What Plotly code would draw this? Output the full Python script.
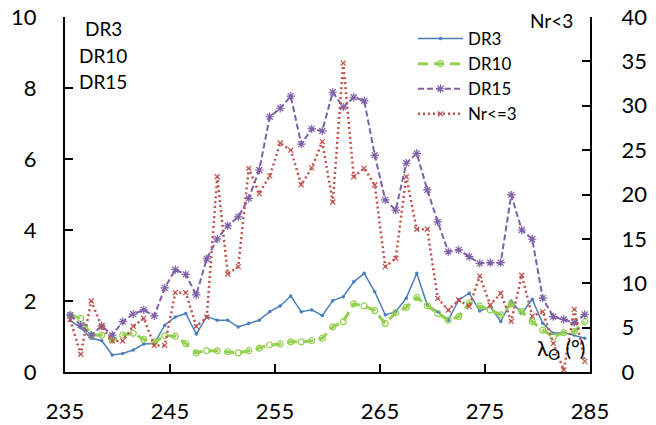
import plotly.graph_objects as go

# Solar longitude (deg)
lam = [235.5 + k for k in range(50)]

dr3 = [1.45, 1.25, 0.95, 0.88, 0.48, 0.52, 0.62, 0.79, 0.80, 1.32,
       1.55, 1.65, 1.07, 1.56, 1.46, 1.46, 1.27, 1.37, 1.46, 1.70,
       1.86, 2.14, 1.70, 1.75, 1.59, 2.01, 2.12, 2.54, 2.78, 2.26,
       1.61, 1.70, 2.08, 2.78, 1.89, 1.70, 1.46, 2.03, 2.22, 1.72,
       1.84, 1.42, 2.00, 1.65, 2.05, 1.37, 1.09, 1.11, 1.04, 0.95]

dr10 = [1.60, 1.51, 1.04, 1.04, 0.90, 1.04, 1.09, 0.92, 0.84, 1.02,
        1.01, 0.80, 0.54, 0.60, 0.60, 0.57, 0.54, 0.60, 0.67, 0.76,
        0.79, 0.85, 0.85, 0.88, 0.95, 1.27, 1.42, 1.92, 1.86, 1.73,
        1.37, 1.67, 1.82, 2.10, 1.87, 1.65, 1.46, 1.56, 1.95, 1.86,
        1.75, 1.61, 1.92, 1.70, 1.42, 1.18, 0.99, 1.11, 1.14, 1.42]

dr15 = [1.60, 1.32, 1.04, 1.30, 1.04, 1.42, 1.63, 1.75, 1.58, 2.37,
        2.88, 2.75, 2.17, 3.19, 3.75, 4.12, 4.37, 4.89, 5.69, 7.19,
        7.43, 7.77, 6.42, 6.85, 6.79, 7.88, 7.46, 7.74, 7.64, 6.11,
        4.85, 4.56, 5.88, 6.16, 5.13, 4.23, 3.39, 3.44, 3.25, 3.06,
        3.08, 3.08, 4.99, 4.00, 3.74, 2.08, 1.56, 1.48, 1.39, 1.62]

nr3 = [5.9, 2.0, 8.0, 5.1, 3.5, 3.5, 5.15, 6.05, 3.0, 3.0,
       8.94, 8.94, 5.14, 6.17, 22.0, 11.04, 11.87, 22.95, 20.1, 22.1,
       25.8, 25.0, 21.1, 23.0, 25.95, 19.15, 34.8, 22.0, 22.95, 21.07,
       11.87, 12.8, 22.0, 16.08, 16.1, 8.3, 6.99, 8.11, 7.36, 10.8,
       7.55, 8.87, 5.7, 10.9, 6.3, 6.8, 3.23, 0.23, 7.06, 1.2]

x_ticks = [235, 245, 255, 265, 275, 285]
left_ticks = [0, 2, 4, 6, 8, 10]
right_ticks = [0, 5, 10, 15, 20, 25, 30, 35, 40]

FONT = "Lato"
C_BLUE = "#4A7EBB"
C_GREEN = "#92D050"
C_PURPLE = "#7F5FA8"
C_RED = "#C0504D"

fig = go.Figure()
fig.add_trace(go.Scatter(x=lam, y=dr3, name="DR3", mode="lines+markers",
                         line=dict(color=C_BLUE, width=1.5),
                         marker=dict(symbol="circle", size=3.5, color=C_BLUE)))
fig.add_trace(go.Scatter(x=lam, y=dr10, name="DR10", mode="lines+markers",
                         line=dict(color=C_GREEN, width=3, dash="10px,6px"),
                         marker=dict(symbol="circle-open", size=6, color=C_GREEN,
                                     line=dict(width=1.2, color=C_GREEN))))
fig.add_trace(go.Scatter(x=lam, y=dr15, name="DR15", mode="lines+markers",
                         line=dict(color=C_PURPLE, width=2, dash="6px,3px"),
                         marker=dict(symbol="asterisk-open", size=7,
                                     line=dict(width=1.2, color=C_PURPLE))))
fig.add_trace(go.Scatter(x=lam, y=nr3, name="Nr<=3", mode="lines+markers", yaxis="y2",
                         line=dict(color=C_RED, width=2.5, dash="2px,3px"),
                         marker=dict(symbol="x-thin-open", size=5,
                                     line=dict(width=1.2, color=C_RED))))

W, H = 656, 425
L, T = 65, 17
pw, ph = 525, 355
R = W - L - pw
B = H - T - ph
PLOT_BOTTOM = T + ph


def px(xp):
    return (xp - L) / pw


def py(yp):
    return (PLOT_BOTTOM - yp) / ph


axis_common = dict(showgrid=False, zeroline=False, showline=True, linecolor="black",
                   linewidth=2, ticks="inside", ticklen=8, tickwidth=2, tickcolor="black",
                   automargin=False,
                   tickfont=dict(family=FONT, size=22, color="black"))

fig.update_layout(
    width=W, height=H,
    margin=dict(l=L, r=R, t=T, b=B, autoexpand=False),
    paper_bgcolor="white", plot_bgcolor="white",
    font=dict(family=FONT, color="black"),
    xaxis=dict(range=[235, 285], tickvals=x_ticks, ticklabelstandoff=19, **axis_common),
    yaxis=dict(range=[0, 10], tickvals=left_ticks, ticklabelstandoff=22, **axis_common),
    yaxis2=dict(range=[0, 40], tickvals=right_ticks, overlaying="y", side="right",
                ticklabelstandoff=25, **axis_common),
    legend=dict(x=px(413), y=py(21), xanchor="left", yanchor="top",
                bgcolor="rgba(0,0,0,0)", font=dict(family=FONT, size=17, color="black"),
                tracegroupgap=0, itemwidth=45),
    showlegend=True,
)

ann_font = dict(family=FONT, size=19, color="black")
for txt, xp, yp in [("DR3", 103, 29), ("DR10", 103, 56), ("DR15", 103, 82),
                    ("Nr<3", 551, 21)]:
    fig.add_annotation(x=px(xp), y=py(yp), xref="paper", yref="paper", text=txt,
                       xanchor="center", yanchor="middle", showarrow=False, font=ann_font)
fig.add_annotation(x=px(561), y=py(349), xref="paper", yref="paper",
                   text="λ<sub>Θ</sub> (°)", xanchor="center", yanchor="middle",
                   showarrow=False, font=dict(family=FONT, size=21, color="black"))

fig.write_html("out.html",
               config={"displayModeBar": False},
               post_script="document.body.style.margin='0';document.body.style.overflow='hidden';")
